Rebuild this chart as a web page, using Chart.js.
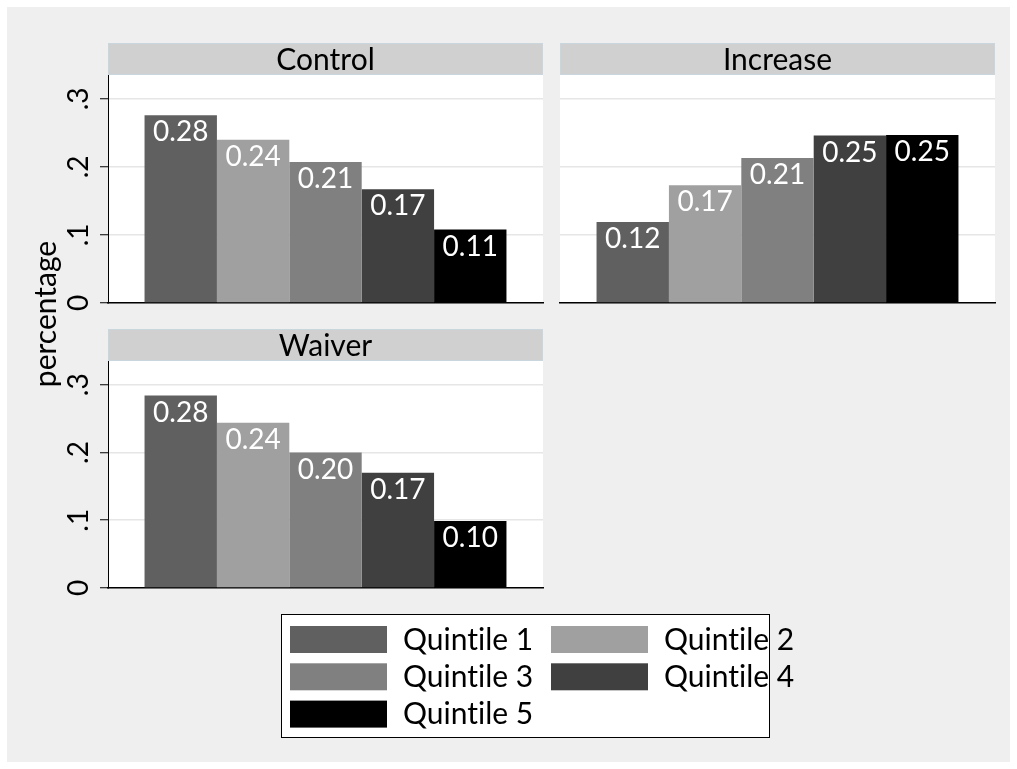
<!DOCTYPE html>
<html>
<head>
<meta charset="utf-8">
<script src="https://cdn.jsdelivr.net/npm/chart.js@4/dist/chart.umd.min.js"></script>
<style>
  body { margin: 0; background: #fff; }
  #wrap { position: relative; width: 1017px; height: 769px; }
  #bg { position: absolute; left: 7px; top: 7px; width: 1003px; height: 755px; background: #efefef; }
  canvas { position: absolute; left: 0; top: 0; }
</style>
</head>
<body>
<div id="wrap">
  <div id="bg"></div>
  <canvas id="cControl" width="1017" height="769"></canvas>
  <canvas id="cIncrease" width="1017" height="769"></canvas>
  <canvas id="cWaiver" width="1017" height="769"></canvas>
</div>
<script>
// Data
const quintiles = ["Quintile 1", "Quintile 2", "Quintile 3", "Quintile 4", "Quintile 5"];
const quintileColors = ["#606060", "#a0a0a0", "#808080", "#404040", "#000000"];
const controlValues = [0.276, 0.240, 0.207, 0.167, 0.108];
const increaseValues = [0.119, 0.173, 0.213, 0.246, 0.247];
const waiverValues = [0.284, 0.244, 0.200, 0.170, 0.099];
const yTicks = [0, 0.1, 0.2, 0.3];
const yTickLabels = ["0", ".1", ".2", ".3"];
const yTitle = "percentage";

const FONT = "Lato, 'Noto Sans', sans-serif";
const W = 1017, H = 769;

function setText(ctx, size, color, align) {
  ctx.font = size + "px " + FONT;
  ctx.fillStyle = color;
  ctx.textAlign = align;
  ctx.textBaseline = "middle";
  // no "ti" ligature
  ctx.textRendering = "optimizeSpeed";
}

// white plot area, grey strip with panel title, bar labels, axis text, legend
const panelPlugin = {
  id: "panel",
  beforeDraw(chart, args, opts) {
    const { ctx, chartArea: a } = chart;
    ctx.save();
    ctx.fillStyle = "#fff";
    ctx.fillRect(a.left, a.top, a.right - a.left, a.bottom - a.top);
    ctx.fillStyle = "#d0d0d0";
    ctx.fillRect(a.left, a.top - 32, a.right - a.left, 32);
    ctx.strokeStyle = "#cad6de";
    ctx.lineWidth = 1;
    ctx.strokeRect(a.left + 0.5, a.top - 31.5, a.right - a.left - 1, 31);
    setText(ctx, 30, "#000", "center");
    ctx.fillText(opts.title, (a.left + a.right) / 2, a.top - 15);
    ctx.restore();
  },
  afterDatasetsDraw(chart) {
    const ctx = chart.ctx;
    ctx.save();
    setText(ctx, 28, "#fff", "center");
    chart.data.datasets.forEach((ds, i) => {
      const bar = chart.getDatasetMeta(i).data[0];
      ctx.fillText(ds.data[0].toFixed(2), bar.x, bar.y + 17);
    });
    ctx.restore();
  },
  afterDraw(chart, args, opts) {
    const ctx = chart.ctx;
    if (opts.yLabels) {
      const y = chart.scales.y;
      ctx.save();
      setText(ctx, 28, "#000", "center");
      yTicks.forEach((v, i) => {
        ctx.save();
        ctx.translate(79, y.getPixelForValue(v));
        ctx.rotate(-Math.PI / 2);
        ctx.fillText(yTickLabels[i], 0, 0);
        ctx.restore();
      });
      ctx.restore();
    }
    if (opts.yTitle) {
      ctx.save();
      setText(ctx, 30, "#000", "center");
      ctx.translate(46, 314);
      ctx.rotate(-Math.PI / 2);
      ctx.fillText(yTitle, 0, 0);
      ctx.restore();
    }
    if (opts.legend) {
      ctx.save();
      ctx.fillStyle = "#fff";
      ctx.fillRect(281, 614, 488, 123);
      ctx.strokeStyle = "#000";
      ctx.lineWidth = 1;
      ctx.strokeRect(281.5, 614.5, 488, 123);
      setText(ctx, 30, "#000", "left");
      chart.data.datasets.forEach((ds, i) => {
        const col = i % 2, row = Math.floor(i / 2);
        const sx = col === 0 ? 290 : 551;
        const sy = 626 + row * 37.3;
        ctx.fillStyle = ds.backgroundColor;
        ctx.fillRect(sx, sy, 97, 27);
        ctx.fillStyle = "#000";
        ctx.fillText(ds.label, sx + 113, sy + 14);
      });
      ctx.restore();
    }
  }
};

function makePanel(id, title, values, area, leftAxis, extra) {
  const yWidth = leftAxis ? 8 : 0;
  return new Chart(document.getElementById(id), {
    type: "bar",
    data: {
      labels: [""],
      datasets: quintiles.map((q, i) => ({
        label: q,
        data: [values[i]],
        backgroundColor: quintileColors[i],
        borderWidth: 0,
        categoryPercentage: 0.832,
        barPercentage: 1.0
      }))
    },
    options: {
      responsive: false,
      animation: false,
      layout: {
        padding: { left: area.left - yWidth, top: area.top, right: W - area.right, bottom: H - area.bottom }
      },
      plugins: {
        legend: { display: false },
        tooltip: { enabled: false },
        panel: Object.assign({ title: title }, extra)
      },
      scales: {
        x: {
          grid: { display: false },
          ticks: { display: false },
          border: { display: true, color: "#000", width: 1.5 },
          afterFit(s) { s.height = 0; }
        },
        y: {
          min: 0,
          max: 0.335,
          afterBuildTicks(s) { s.ticks = yTicks.map(v => ({ value: v })); },
          ticks: { display: false },
          grid: {
            color: "#e6e6e6",
            lineWidth: 1.5,
            drawTicks: leftAxis,
            tickLength: 8,
            tickColor: "#000",
            tickWidth: 1
          },
          border: { display: leftAxis, color: "#000", width: 1 },
          afterFit(s) { s.width = yWidth; }
        }
      }
    },
    plugins: [panelPlugin]
  });
}

makePanel("cControl", "Control", controlValues, { left: 108, top: 75, right: 543, bottom: 303 }, true, { yLabels: true, yTitle: true });
makePanel("cIncrease", "Increase", increaseValues, { left: 560, top: 75, right: 995, bottom: 303 }, false, {});
makePanel("cWaiver", "Waiver", waiverValues, { left: 108, top: 361, right: 543, bottom: 588 }, true, { yLabels: true, legend: true });
</script>
</body>
</html>
